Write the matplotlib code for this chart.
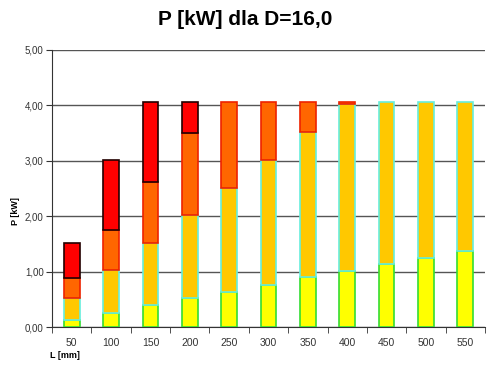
import numpy as np
import matplotlib.pyplot as plt

plt.rcParams["font.family"] = ["Liberation Sans", "DejaVu Sans"]

# L [mm] categories
lengths = ["50", "100", "150", "200", "250", "300", "350", "400", "450", "500", "550"]

# cumulative top of each stacked segment (P [kW])
yellow_top = [0.13, 0.25, 0.40, 0.52, 0.63, 0.76, 0.90, 1.01, 1.14, 1.25, 1.37]
gold_top = [0.52, 1.03, 1.52, 2.02, 2.51, 3.01, 3.52, 4.02, 4.06, 4.06, 4.06]
orange_top = [0.88, 1.75, 2.62, 3.50, 4.06, 4.06, 4.06, 4.06, 4.06, 4.06, 4.06]
red_top = [1.52, 3.01, 4.06, 4.06, 4.06, 4.06, 4.06, 4.06, 4.06, 4.06, 4.06]

y_ticks = [0, 1, 2, 3, 4, 5]

fig = plt.figure(figsize=(5, 3.7), dpi=100)
ax = fig.add_axes([0.104, 0.116, 0.866, 0.749])

x = np.arange(len(lengths))
w = 0.4

layers = [
    (yellow_top, "#ffff00", "#33dd33"),
    (gold_top, "#ffc800", "#66eedd"),
    (orange_top, "#ff6600", "#ee2200"),
    (red_top, "#ff0000", "#220000"),
]
bottom = np.zeros(len(lengths))
for tops, fc, ec in layers:
    tops = np.array(tops)
    h = tops - bottom
    keep = h > 1e-6  # skip empty segments so no stray edge is drawn
    ax.bar(x[keep], h[keep], width=w, bottom=bottom[keep], color=fc, edgecolor=ec,
           linewidth=1.2, zorder=3)
    bottom = tops

ax.set_xlim(-0.5, len(lengths) - 0.5)
ax.set_ylim(0, 5)
ax.set_yticks(y_ticks)
ax.set_yticklabels([f"{v:.2f}".replace(".", ",") for v in y_ticks], fontsize=7, color="#333333")
ax.yaxis.grid(True, color="#555555", linewidth=1.0, zorder=0)

# category labels centred, ticks between categories
ax.set_xticks(x)
ax.set_xticklabels(lengths, fontsize=7.5, color="#333333")
ax.tick_params(axis="x", length=0, pad=8)
ax.set_xticks(np.arange(-0.5, len(lengths)), minor=True)
ax.tick_params(axis="x", which="minor", length=4, color="#333333", direction="out")
ax.tick_params(axis="y", length=4, color="#333333", direction="out", pad=2)

for s in ["top", "right"]:
    ax.spines[s].set_visible(False)
ax.spines["left"].set_color("#333333")
ax.spines["bottom"].set_color("#333333")

fig.text(0.49, 0.948, "P [kW] dla D=16,0", ha="center", va="center", fontsize=15, fontweight="bold")
fig.text(0.03, 0.43, "P [kW]", rotation=90, ha="center", va="center", fontsize=6.5, fontweight="bold")
fig.text(0.1, 0.04, "L [mm]", ha="left", va="center", fontsize=6.5, fontweight="bold")

fig.savefig("out.png", dpi=100)
